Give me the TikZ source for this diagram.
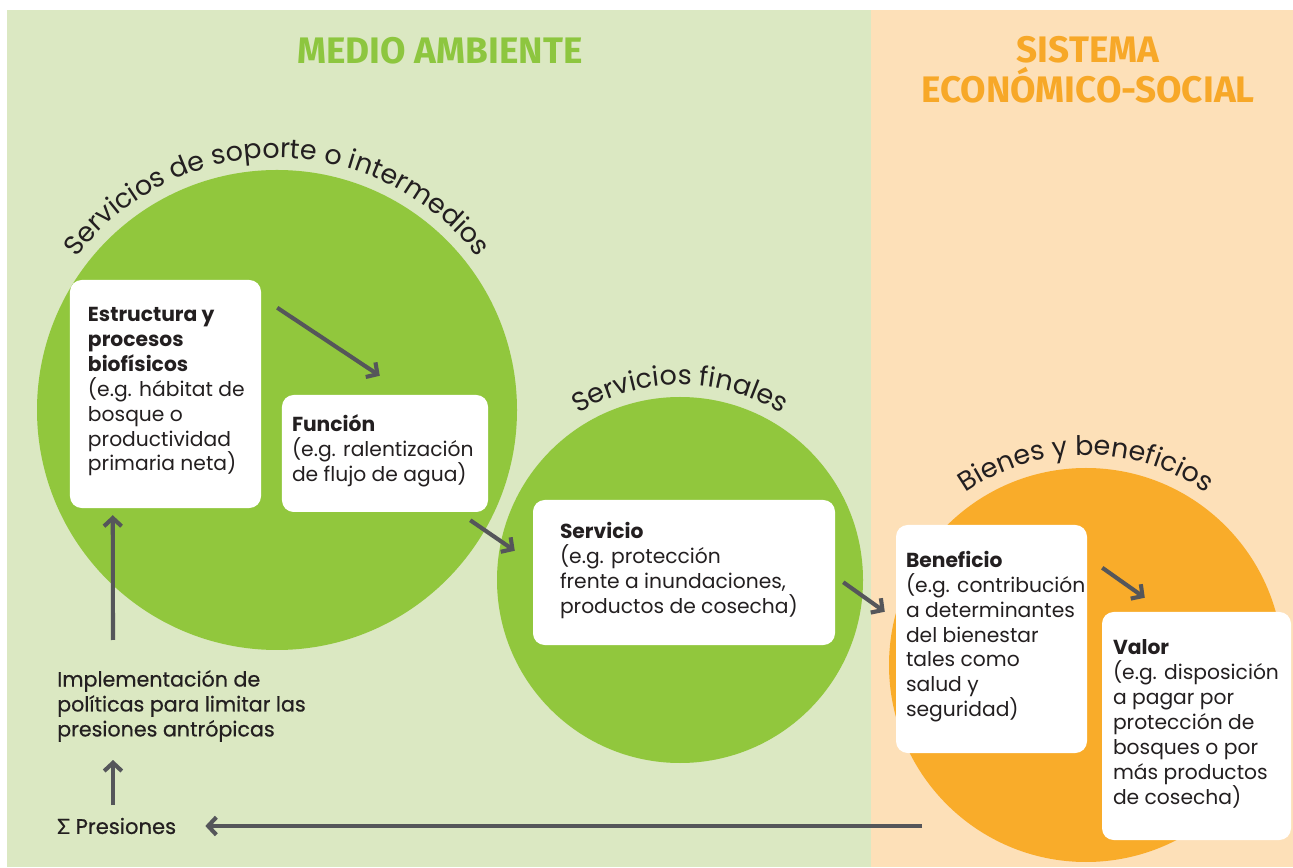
\documentclass[tikz,border=0pt]{standalone}
\usepackage{fontspec}
\setmainfont{Poppins}
\newfontfamily\medfont[FakeBold=0.6]{Poppins}
\newfontfamily\headfont{Fira Sans}
\newfontfamily\greekfont[FakeBold=0.6]{Lato}
\usetikzlibrary{arrows.meta,calc,decorations.text,positioning}
\definecolor{envbg}{RGB}{219,232,194}
\definecolor{ecobg}{RGB}{253,224,184}
\definecolor{leaf}{RGB}{145,199,61}
\definecolor{amber}{RGB}{249,172,42}
\definecolor{leafhead}{RGB}{141,198,63}
\definecolor{amberhead}{RGB}{247,168,40}
\definecolor{arrowgray}{RGB}{85,86,90}
\definecolor{ink}{RGB}{35,31,32}

\begin{document}
\begin{tikzpicture}[x=0.03cm,y=0.03cm,>={Straight Barb[length=7pt,width=15pt]},
  box/.style={fill=white,rounded corners=10pt,inner sep=0pt},
  txt/.style={align=left,inner sep=0pt,text=ink,font=\fontsize{17.3}{21.3}\selectfont},
  head/.style={align=center,inner sep=0pt,font=\headfont\bfseries\fontsize{31.5}{34}\selectfont},
  arr/.style={->,draw=arrowgray,line width=3.5pt},
  arclabel/.style={decorate,decoration={text along path,text align=center,
    text={|\fontsize{23}{24}\selectfont\color{ink}|#1}}}]
\useasboundingbox (0,0) rectangle (1293,867);
% the two panels
\fill[envbg] (7,0) rectangle (871,857);
\fill[ecobg] (871,0) rectangle (1293,857);
\node[head,text=leafhead] (envtitle) at (440,816) {MEDIO AMBIENTE};
\node[head,text=amberhead] (ecotitle) at (1088,797) {SISTEMA\\ECONÓMICO-SOCIAL};
% service circles
\coordinate (csup) at (277,457);
\coordinate (cfin) at (680,287);
\coordinate (cgood) at (1086,202);
\fill[leaf] (csup) circle[radius=240];
\fill[leaf] (cfin) circle[radius=183];
\fill[amber] (cgood) circle[radius=197];
\path[arclabel={Servicios de soporte o intermedios}] ($(csup)+(165:252)$) arc[start angle=165,end angle=15,radius=252];
\path[arclabel={Servicios finales}] ($(cfin)+(150:195)$) arc[start angle=150,end angle=30,radius=195];
\path[arclabel={Bienes y beneficios}] ($(cgood)+(150:210)$) arc[start angle=150,end angle=30,radius=210];
% boxes
\node[box,minimum width=5.73cm,minimum height=6.84cm] (struct) at (165.5,473) {};
\node[box,minimum width=6.18cm,minimum height=3.51cm] (func) at (385,413.5) {};
\node[box,minimum width=9.06cm,minimum height=4.35cm] (serv) at (684,294.5) {};
\node[box,minimum width=5.73cm,minimum height=6.84cm] (benef) at (991.5,228) {};
\node[box,minimum width=5.67cm,minimum height=6.84cm] (value) at (1196.5,141) {};
\node[txt,right=0.54cm of struct.west,yshift=2pt] (structtxt) {\textbf{Estructura y}\\\textbf{procesos}\\\textbf{biofísicos}\\(e.g. hábitat de\\bosque o\\productividad\\primaria neta)};
\node[txt,right=0.3cm of func.west,yshift=2pt] (functxt) {\textbf{Función}\\(e.g. ralentización\\de flujo de agua)};
\node[txt,right=0.81cm of serv.west,yshift=2pt] (servtxt) {\textbf{Servicio}\\(e.g. protección\\frente a inundaciones,\\productos de cosecha)};
\node[txt,right=0.3cm of benef.west,yshift=2pt] (beneftxt) {\textbf{Beneficio}\\(e.g. contribución\\a determinantes\\del bienestar\\tales como\\salud y\\seguridad)};
\node[txt,right=0.33cm of value.west,yshift=2pt] (valuetxt) {\textbf{Valor}\\(e.g. disposición\\a pagar por\\protección de\\bosques o por\\más productos\\de cosecha)};
% feedback through pressures
\node[txt,font=\medfont\fontsize{17.6}{21.3}\selectfont,anchor=north west] (policy) at (57,197) {Implementación de\\políticas para limitar las\\presiones antrópicas};
\node[txt,font=\medfont\fontsize{18}{21.3}\selectfont,anchor=west] (sum) at (57,41) {{\greekfont Σ} Presiones};
\coordinate (loopstart) at (922,41);
% arrows
\draw[arr] ([shift={(16,-28)}]struct.north east) -- ([shift={(98,19)}]func.north west);
\draw[arr] ([shift={(-18,-8)}]func.south east) -- ([shift={(-18,-51)}]serv.north west);
\draw[arr] ([shift={(8,63)}]serv.south east) -- ([shift={(-11,-87)}]benef.north west);
\draw[arr] ([shift={(15,-43)}]benef.north east) -- ([shift={(43,14)}]value.north west);
\draw[arr] ([shift={(56,30)}]policy.north west) -- ([shift={(43,-7)}]struct.south west);
\draw[arr] ([shift={(56,21)}]sum.west) -- ([shift={(56,-90)}]policy.north west);
\draw[arr] (loopstart) -- ([shift={(29,0)}]sum.east);
\end{tikzpicture}
\end{document}
